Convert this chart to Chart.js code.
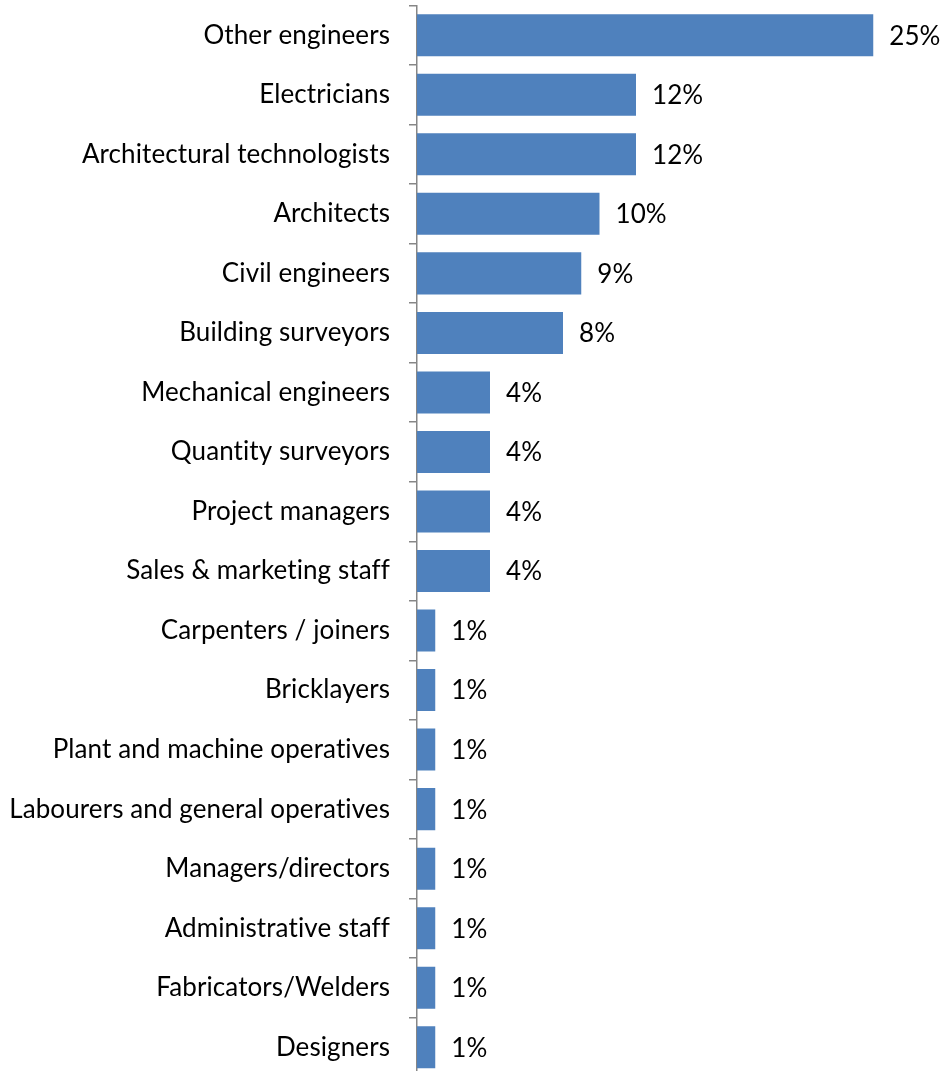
<!DOCTYPE html>
<html>
<head>
<meta charset="utf-8">
<script src="https://cdn.jsdelivr.net/npm/chart.js@4/dist/chart.umd.min.js"></script>
<style>
html,body{margin:0;padding:0;background:#fff;overflow:hidden;}
#wrap{width:942px;height:1071px;position:relative;overflow:hidden;}
canvas{display:block;}
</style>
</head>
<body>
<div id="wrap"><canvas id="c" width="942" height="1077"></canvas></div>
<script>
const categories = [
  "Other engineers","Electricians","Architectural technologists","Architects",
  "Civil engineers","Building surveyors","Mechanical engineers","Quantity surveyors",
  "Project managers","Sales & marketing staff","Carpenters / joiners","Bricklayers",
  "Plant and machine operatives","Labourers and general operatives","Managers/directors",
  "Administrative staff","Fabricators/Welders","Designers"
];
const shares = [25,12,12,10,9,8,4,4,4,4,1,1,1,1,1,1,1,1];
const valueLabels = ["25%","12%","12%","10%","9%","8%","4%","4%","4%","4%","1%","1%","1%","1%","1%","1%","1%","1%"];

const FONT = "Lato, 'Open Sans', sans-serif";
const FSIZE = 26;

const spacingPlugin = {
  id: 'noLigatures',
  beforeDraw(chart) {
    if ('letterSpacing' in chart.ctx) chart.ctx.letterSpacing = '0.1px';
  }
};

const labelPlugin = {
  id: 'valueLabels',
  afterDatasetsDraw(chart) {
    const ctx = chart.ctx;
    const meta = chart.getDatasetMeta(0);
    ctx.save();
    ctx.font = FSIZE + "px " + FONT;
    ctx.fillStyle = "#000";
    ctx.textAlign = "left";
    ctx.textBaseline = "middle";
    meta.data.forEach((bar, i) => {
      ctx.fillText(valueLabels[i], bar.x + 16, bar.y + 1);
    });
    ctx.restore();
  }
};

new Chart(document.getElementById('c'), {
  type: 'bar',
  data: {
    labels: categories,
    datasets: [{
      data: shares,
      backgroundColor: '#4F81BD',
      borderWidth: 0,
      barPercentage: 0.706,
      categoryPercentage: 1.0
    }]
  },
  options: {
    indexAxis: 'y',
    responsive: false,
    animation: false,
    layout: { padding: { top: 5.5, bottom: 0, right: 14, left: 0 } },
    plugins: { legend: { display: false }, tooltip: { enabled: false } },
    scales: {
      x: {
        display: false,
        min: 0,
        max: 28
      },
      y: {
        afterFit(scale) { scale.width = 417; scale.paddingTop = 0; scale.paddingBottom = 0; },
        border: { display: true, color: '#868686', width: 1.5 },
        grid: {
          display: true,
          drawOnChartArea: false,
          drawTicks: true,
          tickLength: 8,
          color: '#868686',
          lineWidth: 1.5,
          offset: true
        },
        ticks: {
          color: '#000',
          padding: 19,
          font: { family: FONT, size: FSIZE },
          autoSkip: false
        }
      }
    }
  },
  plugins: [spacingPlugin, labelPlugin]
});
</script>
</body>
</html>
